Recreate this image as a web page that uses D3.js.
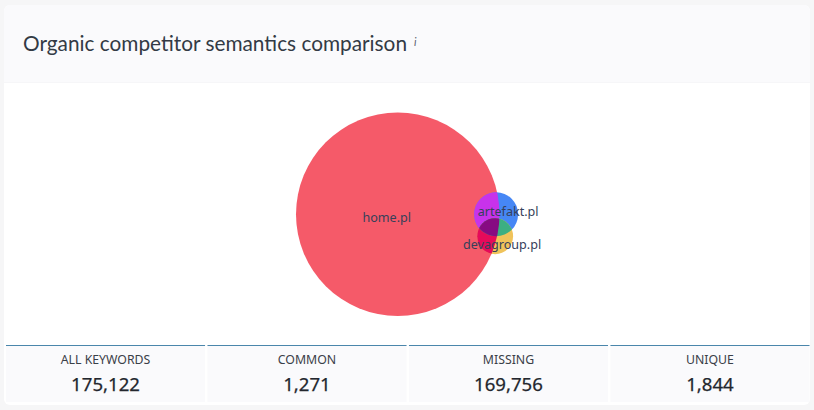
<!DOCTYPE html>
<html>
<head>
<meta charset="utf-8">
<script src="https://cdn.jsdelivr.net/npm/d3@7"></script>
<style>
html, body { margin: 0; padding: 0; background: #f6f6f7; }
svg { display: block; }
</style>
</head>
<body>
<svg id="chart" width="814" height="410"></svg>
<script>
var titleText = "Organic competitor semantics comparison";

// Keyword counts
var siteNames = ["home.pl", "artefakt.pl", "devagroup.pl"];
var siteKeywords = [175122, 8147, 5454];
var siteColors = ["#f55a69", "#4687f5", "#f0c35a"];

// Pairwise overlaps, used to place the circles
var overlapHomeArtefakt = 4680;
var overlapHomeDeva = 3000;
var overlapArtefaktDeva = 2242;

var statLabels = ["ALL KEYWORDS", "COMMON", "MISSING", "UNIQUE"];
var statValues = [175122, 1271, 169756, 1844];

var svg = d3.select("#chart");

/* Card, header and footer tiles. */
svg.append("rect").attr("x", 4).attr("y", 5).attr("width", 806).attr("height", 400)
    .attr("rx", 6).attr("fill", "#ffffff");
svg.append("path").attr("d", "M4 82V11a6 6 0 0 1 6-6H804a6 6 0 0 1 6 6V82Z").attr("fill", "#fafafc");
svg.append("rect").attr("x", 4).attr("y", 82).attr("width", 806).attr("height", 1).attr("fill", "#f6f6f8");

svg.append("text").attr("x", 23).attr("y", 51)
    .attr("font-family", "Lato").attr("font-size", 20.8).attr("fill", "#333a45")
    .text(titleText);
svg.append("text").attr("x", 414).attr("y", 46)
    .attr("font-family", "Lato").attr("font-size", 11).attr("font-style", "italic").attr("fill", "#5a6270")
    .text("i");

var tileScale = d3.scaleBand().domain(statLabels).range([6, 809.5]).paddingInner(0.012);
var numberFormat = d3.format(",");

var tiles = svg.selectAll("g.tile").data(statLabels).enter().append("g")
    .attr("class", "tile")
    .attr("transform", function(d) { return "translate(" + tileScale(d) + ",345)"; });
tiles.append("rect").attr("width", tileScale.bandwidth()).attr("height", 57).attr("fill", "#fafafc");
tiles.append("rect").attr("width", tileScale.bandwidth()).attr("height", 1).attr("fill", "#4a86ab");
tiles.append("text").attr("x", tileScale.bandwidth() / 2).attr("y", 19)
    .attr("text-anchor", "middle").attr("font-family", "Noto Sans").attr("font-size", 12.3).attr("fill", "#3a4048")
    .text(function(d) { return d; });
// Medium weight is faked with a thin stroke
tiles.append("text").attr("x", tileScale.bandwidth() / 2).attr("y", 45.5)
    .attr("text-anchor", "middle").attr("font-family", "Noto Sans").attr("font-size", 18.6)
    .attr("fill", "#23272e").attr("stroke", "#23272e").attr("stroke-width", 0.25)
    .text(function(d, i) { return numberFormat(statValues[i]); });

/* Venn layout: find the centre distance that gives the wanted overlap. */
function lensArea(r1, r2, d)
{
    if (d >= r1 + r2) return 0;
    if (d <= Math.abs(r1 - r2)) return Math.PI * Math.min(r1, r2) * Math.min(r1, r2);
    var a = r1 * r1 * Math.acos((d * d + r1 * r1 - r2 * r2) / (2 * d * r1));
    var b = r2 * r2 * Math.acos((d * d + r2 * r2 - r1 * r1) / (2 * d * r2));
    var c = 0.5 * Math.sqrt((-d + r1 + r2) * (d + r1 - r2) * (d - r1 + r2) * (d + r1 + r2));
    return a + b - c;
}

function distanceForOverlap(r1, r2, area)
{
    var lo = Math.abs(r1 - r2), hi = r1 + r2;
    for (var i = 0; i < 60; i++) {
        var mid = (lo + hi) / 2;
        if (lensArea(r1, r2, mid) > area) lo = mid; else hi = mid;
    }
    return (lo + hi) / 2;
}

var radii = siteKeywords.map(function(k) { return Math.sqrt(k / Math.PI); });
var dHA = distanceForOverlap(radii[0], radii[1], overlapHomeArtefakt);
var dHD = distanceForOverlap(radii[0], radii[2], overlapHomeDeva);
var dAD = distanceForOverlap(radii[1], radii[2], overlapArtefaktDeva);

// Home at the origin, artefakt on the x axis, devagroup below them.
var devaX = (dHD * dHD - dAD * dAD + dHA * dHA) / (2 * dHA);
var devaY = Math.sqrt(dHD * dHD - devaX * devaX);
var centres = [[0, 0], [dHA, 0], [devaX, devaY]];

var x = d3.scaleLinear().domain([-radii[0], radii[0]]).range([296, 499.5]);
var y = d3.scaleLinear().domain([-radii[0], radii[0]]).range([112.5, 316]);
var pxRadius = function(i) { return x(radii[i]) - x(0); };

var defs = svg.append("defs");
siteNames.forEach(function(name, i) {
    defs.append("clipPath").attr("id", "clip" + i).append("circle")
        .attr("cx", x(centres[i][0])).attr("cy", y(centres[i][1])).attr("r", pxRadius(i));
});

var venn = svg.append("g");
venn.selectAll("circle.site").data(siteNames).enter().append("circle")
    .attr("class", "site")
    .attr("cx", function(d, i) { return x(centres[i][0]); })
    .attr("cy", function(d, i) { return y(centres[i][1]); })
    .attr("r", function(d, i) { return pxRadius(i); })
    .attr("fill", function(d, i) { return siteColors[i]; });

// Intersections get their own colours: [circle drawn, clipped by, colour]
function drawIntersection(circleIdx, clipIdx, color, parent)
{
    return (parent || venn).append("g").attr("clip-path", "url(#clip" + clipIdx + ")")
        .append("circle")
        .attr("cx", x(centres[circleIdx][0])).attr("cy", y(centres[circleIdx][1]))
        .attr("r", pxRadius(circleIdx)).attr("fill", color);
}
drawIntersection(1, 0, "#c832eb");
drawIntersection(2, 0, "#e60a5a");
drawIntersection(1, 2, "#3caf82");
var triple = venn.append("g").attr("clip-path", "url(#clip0)");
drawIntersection(1, 2, "#870a82", triple);

/* Labels sit slightly off the centres, as in the original. */
var labelOffsets = [[-11, 8], [12, 2], [7, 13]];
svg.selectAll("text.site").data(siteNames).enter().append("text")
    .attr("class", "site")
    .attr("x", function(d, i) { return x(centres[i][0]) + labelOffsets[i][0]; })
    .attr("y", function(d, i) { return y(centres[i][1]) + labelOffsets[i][1]; })
    .attr("text-anchor", "middle").attr("font-family", "Noto Sans").attr("font-size", 12.6).attr("fill", "#35405a")
    .text(function(d) { return d; });
</script>
</body>
</html>
